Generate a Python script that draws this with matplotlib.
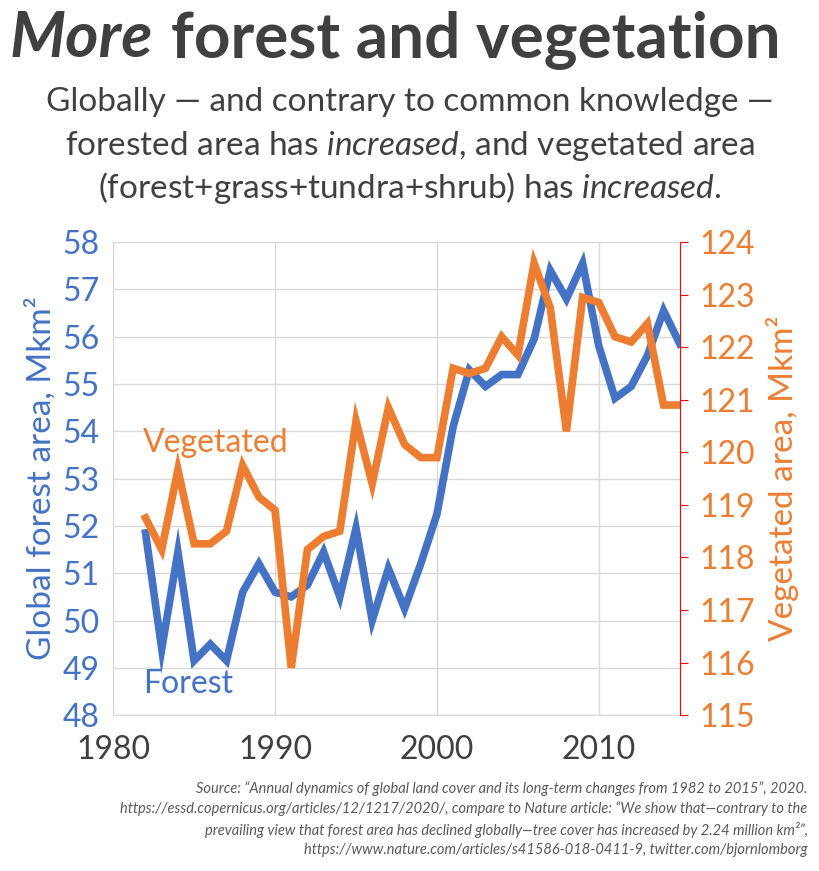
import matplotlib
matplotlib.use("Agg")
import matplotlib.pyplot as plt

years = list(range(1982, 2016))
forest = [51.85, 49.4, 51.45, 49.15, 49.5, 49.15, 50.6, 51.2, 50.6, 50.5,
          50.75, 51.45, 50.5, 51.95, 50.0, 51.1, 50.25, 51.2, 52.25, 54.1,
          55.3, 54.95, 55.2, 55.2, 55.95, 57.4, 56.8, 57.55, 55.8, 54.7,
          54.95, 55.6, 56.55, 55.85]
vegetated = [118.75, 118.15, 119.67, 118.26, 118.26, 118.5, 119.75, 119.15, 118.9, 115.9,
             118.15, 118.4, 118.5, 120.6, 119.4, 120.85, 120.15, 119.9, 119.9, 121.6,
             121.5, 121.6, 122.2, 121.85, 123.6, 122.75, 120.4, 122.95, 122.85, 122.2,
             122.1, 122.45, 120.9, 120.9]

BLUE = "#4472C4"
ORANGE = "#ED7D31"
GREY = "#404040"
plt.rcParams['font.family'] = ['Lato', 'DejaVu Sans']
plt.rcParams['mathtext.fontset'] = 'custom'
plt.rcParams['mathtext.it'] = 'Lato:italic'
plt.rcParams['mathtext.rm'] = 'Lato'

fig = plt.figure(figsize=(8.2, 8.71), dpi=100)
ax = fig.add_axes([0.138, 0.179, 0.691, 0.543])
ax.plot(years, forest, color=BLUE, lw=5.5, solid_joinstyle='miter')
ax.set_xlim(1980, 2015)
ax.set_ylim(48, 58)
ax.set_yticks(range(48, 59))
ax.set_xticks([1980, 1990, 2000, 2010])
ax.grid(color="#d9d9d9", lw=1)
ax.set_axisbelow(True)
for s in ax.spines.values():
    s.set_color("#d9d9d9")
ax.tick_params(axis='y', colors=BLUE, labelsize=23, length=0, pad=10)
ax.tick_params(axis='x', colors=GREY, labelsize=23, length=0, pad=14)
ax.set_ylabel("Global forest area, Mkm²", color=BLUE, fontsize=24, labelpad=4)

ax2 = ax.twinx()
ax2.plot(years, vegetated, color=ORANGE, lw=5.5, solid_joinstyle='miter')
ax2.set_ylim(115, 124)
ax2.set_yticks(range(115, 125))
ax2.spines['right'].set_color('red')
for k in ['left', 'top', 'bottom']:
    ax2.spines[k].set_visible(False)
ax2.tick_params(axis='y', colors='red', labelcolor=ORANGE, labelsize=23, length=6, pad=8)
ax2.set_ylabel("Vegetated area, Mkm²", color=ORANGE, fontsize=24, labelpad=8)

ax.text(1981.85, 53.75, "Vegetated", color=ORANGE, fontsize=23, va='center')
ax.text(1981.85, 48.65, "Forest", color=BLUE, fontsize=23, va='center')

fig.text(0.012, 0.935, "More", fontsize=46, fontweight='bold', style='italic', color=GREY)
fig.text(0.208, 0.935, "forest and vegetation", fontsize=46, fontweight='bold', color=GREY)
fig.text(0.5, 0.872, "Globally — and contrary to common knowledge —", ha='center', fontsize=24, color=GREY)
fig.text(0.5, 0.822, "forested area has $\\it{increased}$, and vegetated area", ha='center', fontsize=24, color=GREY)
fig.text(0.5, 0.773, "(forest+grass+tundra+shrub) has $\\it{increased.}$", ha='center', fontsize=24, color=GREY)

src = ("Source: “Annual dynamics of global land cover and its long-term changes from 1982 to 2015”, 2020.\n"
       "https://essd.copernicus.org/articles/12/1217/2020/, compare to Nature article: “We show that—contrary to the\n"
       "prevailing view that forest area has declined globally—tree cover has increased by 2.24 million km²”,\n"
       "https://www.nature.com/articles/s41586-018-0411-9, twitter.com/bjornlomborg")
fig.text(0.985, 0.016, src, ha='right', va='bottom', fontsize=10.5, style='italic', color="#595959", linespacing=1.45)

fig.savefig("out.png", dpi=100)
